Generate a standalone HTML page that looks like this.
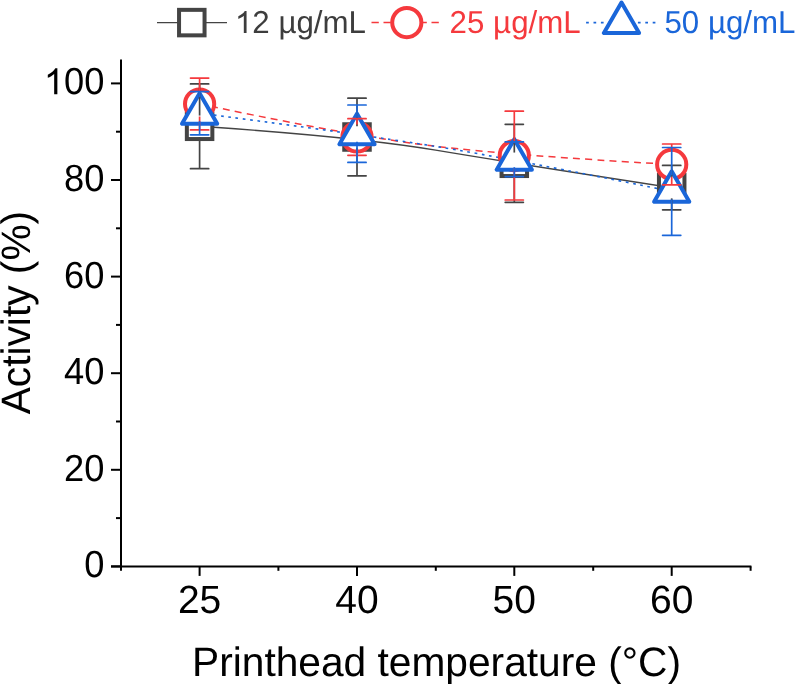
<!DOCTYPE html><html><head><meta charset="utf-8"><style>html,body{margin:0;padding:0;background:#fff;overflow:hidden;}svg{display:block;will-change:transform;}text{font-family:"Liberation Sans",sans-serif;text-rendering:geometricPrecision;}</style></head><body>
<svg width="795" height="684" viewBox="0 0 795 684">
<rect width="795" height="684" fill="#fff"/>
<g stroke="#000" stroke-width="2" fill="none" stroke-linecap="butt">
<line x1="121.0" y1="59.5" x2="121.0" y2="567.4"/>
<line x1="111.0" y1="566.4" x2="751.4" y2="566.4"/>
<line x1="111.0" y1="566.40" x2="121.0" y2="566.40"/>
<line x1="111.0" y1="469.80" x2="121.0" y2="469.80"/>
<line x1="111.0" y1="373.20" x2="121.0" y2="373.20"/>
<line x1="111.0" y1="276.60" x2="121.0" y2="276.60"/>
<line x1="111.0" y1="180.00" x2="121.0" y2="180.00"/>
<line x1="111.0" y1="83.40" x2="121.0" y2="83.40"/>
<line x1="116.0" y1="518.10" x2="121.0" y2="518.10"/>
<line x1="116.0" y1="421.50" x2="121.0" y2="421.50"/>
<line x1="116.0" y1="324.90" x2="121.0" y2="324.90"/>
<line x1="116.0" y1="228.30" x2="121.0" y2="228.30"/>
<line x1="116.0" y1="131.70" x2="121.0" y2="131.70"/>
<line x1="199.6" y1="566.4" x2="199.6" y2="575.9"/>
<line x1="357.0" y1="566.4" x2="357.0" y2="575.9"/>
<line x1="514.3" y1="566.4" x2="514.3" y2="575.9"/>
<line x1="671.7" y1="566.4" x2="671.7" y2="575.9"/>
<line x1="121.00" y1="566.4" x2="121.00" y2="570.8"/>
<line x1="278.40" y1="566.4" x2="278.40" y2="570.8"/>
<line x1="435.80" y1="566.4" x2="435.80" y2="570.8"/>
<line x1="593.20" y1="566.4" x2="593.20" y2="570.8"/>
<line x1="750.60" y1="566.4" x2="750.60" y2="570.8"/>
</g>
<text transform="translate(104.40,577.30) scale(1,1.04)" font-size="36.3" fill="#000" text-anchor="end">0</text>
<text transform="translate(104.40,480.70) scale(1,1.04)" font-size="36.3" fill="#000" text-anchor="end">20</text>
<text transform="translate(104.40,384.10) scale(1,1.04)" font-size="36.3" fill="#000" text-anchor="end">40</text>
<text transform="translate(104.40,287.50) scale(1,1.04)" font-size="36.3" fill="#000" text-anchor="end">60</text>
<text transform="translate(104.40,190.90) scale(1,1.04)" font-size="36.3" fill="#000" text-anchor="end">80</text>
<path transform="translate(43.84,94.30) scale(0.01772,-0.01772)" d="M763,0 L583,0 L583,1147 Q518,1085 415,1024.5 Q312,964 223,931 L223,1105 Q374,1176 484.5,1274 Q595,1372 647,1466 L763,1466 Z" fill="#000"/>
<text transform="translate(64.02,94.30) scale(1,1.04)" font-size="36.3" fill="#000" text-anchor="start">00</text>
<text transform="translate(199.60,613.40) scale(1,1.01)" font-size="39.0" fill="#000" text-anchor="middle">25</text>
<text transform="translate(357.00,613.40) scale(1,1.01)" font-size="39.0" fill="#000" text-anchor="middle">40</text>
<text transform="translate(514.30,613.40) scale(1,1.01)" font-size="39.0" fill="#000" text-anchor="middle">50</text>
<text transform="translate(671.70,613.40) scale(1,1.01)" font-size="39.0" fill="#000" text-anchor="middle">60</text>
<text transform="translate(436.50,675.90) scale(1,1.01)" font-size="40.7" fill="#000" text-anchor="middle">Printhead temperature (°C)</text>
<text transform="translate(30.3,312.6) rotate(-90) scale(1,1.01)" font-size="40.7" text-anchor="middle" fill="#000">Activity (%)</text>
<path d="M199.60,126.30 Q357.00,137.00 435.65,150.15 Q514.30,163.30 671.70,187.60" fill="none" stroke="#444444" stroke-width="1.4"/>
<path d="M199.60,104.00 Q357.00,137.00 435.65,146.30 Q514.30,155.60 671.70,164.40" fill="none" stroke="#f5393d" stroke-width="1.5" stroke-dasharray="7.0,5.2216" stroke-dashoffset="0.953"/>
<path d="M199.60,113.20 Q357.00,133.70 435.65,146.45 Q514.30,159.20 671.70,191.40" fill="none" stroke="#1a66d9" stroke-width="1.6" stroke-dasharray="2.7,4.634" stroke-dashoffset="0.632"/>
<rect x="186.85" y="113.55" width="25.5" height="25.5" fill="#fff" stroke="#444444" stroke-width="4"/>
<rect x="344.25" y="124.25" width="25.5" height="25.5" fill="#fff" stroke="#444444" stroke-width="4"/>
<rect x="501.55" y="150.55" width="25.5" height="25.5" fill="#fff" stroke="#444444" stroke-width="4"/>
<rect x="658.95" y="174.85" width="25.5" height="25.5" fill="#fff" stroke="#444444" stroke-width="4"/>
<circle cx="199.60" cy="104.00" r="14.6" fill="#fff" stroke="#f5393d" stroke-width="4"/>
<circle cx="357.00" cy="137.00" r="14.6" fill="#fff" stroke="#f5393d" stroke-width="4"/>
<circle cx="514.30" cy="155.60" r="14.6" fill="#fff" stroke="#f5393d" stroke-width="4"/>
<circle cx="671.70" cy="164.40" r="14.6" fill="#fff" stroke="#f5393d" stroke-width="4"/>
<path d="M199.60,93.17 L181.99,123.67 L217.21,123.67 Z" fill="#fff" stroke="#1a66d9" stroke-width="4" stroke-linejoin="round"/>
<path d="M357.00,113.67 L339.39,144.17 L374.61,144.17 Z" fill="#fff" stroke="#1a66d9" stroke-width="4" stroke-linejoin="round"/>
<path d="M514.30,139.17 L496.69,169.67 L531.91,169.67 Z" fill="#fff" stroke="#1a66d9" stroke-width="4" stroke-linejoin="round"/>
<path d="M671.70,171.37 L654.09,201.87 L689.31,201.87 Z" fill="#fff" stroke="#1a66d9" stroke-width="4" stroke-linejoin="round"/>
<g stroke="#444444" stroke-width="1.7" stroke-linecap="round"><line x1="199.6" y1="83.90" x2="199.6" y2="115.55" stroke-linecap="butt"/><line x1="199.6" y1="137.05" x2="199.6" y2="168.70" stroke-linecap="butt"/><line x1="190.5" y1="83.90" x2="208.7" y2="83.90"/><line x1="190.5" y1="168.70" x2="208.7" y2="168.70"/></g>
<g stroke="#444444" stroke-width="1.7" stroke-linecap="round"><line x1="357.0" y1="98.20" x2="357.0" y2="126.25" stroke-linecap="butt"/><line x1="357.0" y1="147.75" x2="357.0" y2="175.80" stroke-linecap="butt"/><line x1="347.9" y1="98.20" x2="366.1" y2="98.20"/><line x1="347.9" y1="175.80" x2="366.1" y2="175.80"/></g>
<g stroke="#444444" stroke-width="1.7" stroke-linecap="round"><line x1="514.3" y1="124.30" x2="514.3" y2="152.55" stroke-linecap="butt"/><line x1="514.3" y1="174.05" x2="514.3" y2="202.30" stroke-linecap="butt"/><line x1="505.19999999999993" y1="124.30" x2="523.4" y2="124.30"/><line x1="505.19999999999993" y1="202.30" x2="523.4" y2="202.30"/></g>
<g stroke="#444444" stroke-width="1.7" stroke-linecap="round"><line x1="671.7" y1="165.40" x2="671.7" y2="176.85" stroke-linecap="butt"/><line x1="671.7" y1="198.35" x2="671.7" y2="209.80" stroke-linecap="butt"/><line x1="662.6" y1="165.40" x2="680.8000000000001" y2="165.40"/><line x1="662.6" y1="209.80" x2="680.8000000000001" y2="209.80"/></g>
<g stroke="#f5393d" stroke-width="1.7" stroke-linecap="round"><line x1="199.6" y1="78.10" x2="199.6" y2="91.50" stroke-linecap="butt"/><line x1="199.6" y1="116.50" x2="199.6" y2="129.90" stroke-linecap="butt"/><line x1="190.5" y1="78.10" x2="208.7" y2="78.10"/><line x1="190.5" y1="129.90" x2="208.7" y2="129.90"/></g>
<g stroke="#f5393d" stroke-width="1.7" stroke-linecap="round"><line x1="357.0" y1="118.70" x2="357.0" y2="124.50" stroke-linecap="butt"/><line x1="357.0" y1="149.50" x2="357.0" y2="155.30" stroke-linecap="butt"/><line x1="347.9" y1="118.70" x2="366.1" y2="118.70"/><line x1="347.9" y1="155.30" x2="366.1" y2="155.30"/></g>
<g stroke="#f5393d" stroke-width="1.7" stroke-linecap="round"><line x1="514.3" y1="111.20" x2="514.3" y2="143.10" stroke-linecap="butt"/><line x1="514.3" y1="168.10" x2="514.3" y2="200.00" stroke-linecap="butt"/><line x1="505.19999999999993" y1="111.20" x2="523.4" y2="111.20"/><line x1="505.19999999999993" y1="200.00" x2="523.4" y2="200.00"/></g>
<g stroke="#f5393d" stroke-width="1.7" stroke-linecap="round"><line x1="671.7" y1="144.00" x2="671.7" y2="151.90" stroke-linecap="butt"/><line x1="671.7" y1="176.90" x2="671.7" y2="184.80" stroke-linecap="butt"/><line x1="662.6" y1="144.00" x2="680.8000000000001" y2="144.00"/><line x1="662.6" y1="184.80" x2="680.8000000000001" y2="184.80"/></g>
<g stroke="#1a66d9" stroke-width="1.7" stroke-linecap="round"><line x1="199.6" y1="91.60" x2="199.6" y2="97.20" stroke-linecap="butt"/><line x1="199.6" y1="121.20" x2="199.6" y2="134.80" stroke-linecap="butt"/><line x1="190.5" y1="91.60" x2="208.7" y2="91.60"/><line x1="190.5" y1="134.80" x2="208.7" y2="134.80"/></g>
<g stroke="#1a66d9" stroke-width="1.7" stroke-linecap="round"><line x1="357.0" y1="105.00" x2="357.0" y2="117.70" stroke-linecap="butt"/><line x1="357.0" y1="141.70" x2="357.0" y2="162.40" stroke-linecap="butt"/><line x1="347.9" y1="105.00" x2="366.1" y2="105.00"/><line x1="347.9" y1="162.40" x2="366.1" y2="162.40"/></g>
<g stroke="#1a66d9" stroke-width="1.7" stroke-linecap="round"><line x1="514.3" y1="141.80" x2="514.3" y2="143.20" stroke-linecap="butt"/><line x1="514.3" y1="167.20" x2="514.3" y2="176.60" stroke-linecap="butt"/><line x1="505.19999999999993" y1="141.80" x2="523.4" y2="141.80"/><line x1="505.19999999999993" y1="176.60" x2="523.4" y2="176.60"/></g>
<g stroke="#1a66d9" stroke-width="1.7" stroke-linecap="round"><line x1="671.7" y1="147.50" x2="671.7" y2="175.40" stroke-linecap="butt"/><line x1="671.7" y1="199.40" x2="671.7" y2="235.30" stroke-linecap="butt"/><line x1="662.6" y1="147.50" x2="680.8000000000001" y2="147.50"/><line x1="662.6" y1="235.30" x2="680.8000000000001" y2="235.30"/></g>
<line x1="157" y1="22.6" x2="227" y2="22.6" stroke="#444444" stroke-width="1.4"/>
<rect x="179.05" y="9.85" width="25.5" height="25.5" fill="#fff" stroke="#444444" stroke-width="4"/>
<path transform="translate(234.90,32.90) scale(0.01528,-0.01498)" d="M763,0 L583,0 L583,1147 Q518,1085 415,1024.5 Q312,964 223,931 L223,1105 Q374,1176 484.5,1274 Q595,1372 647,1466 L763,1466 Z" fill="#3d3d3d"/>
<text transform="translate(252.31,32.90) scale(1,1.015)" font-size="31.3" fill="#3d3d3d" text-anchor="start">2 µg/mL</text>
<line x1="371.5" y1="22.6" x2="439.5" y2="22.6" stroke="#f5393d" stroke-width="1.5" stroke-dasharray="7.3,4.7"/>
<circle cx="406.80" cy="22.60" r="14.6" fill="#fff" stroke="#f5393d" stroke-width="4"/>
<text transform="translate(449.60,32.90) scale(1,1.015)" font-size="31.3" fill="#f5393d" text-anchor="start">25 µg/mL</text>
<line x1="586.1" y1="22.6" x2="656" y2="22.6" stroke="#1a66d9" stroke-width="1.6" stroke-dasharray="2.7,4.7"/>
<path d="M621.50,2.57 L603.89,33.07 L639.11,33.07 Z" fill="#fff" stroke="#1a66d9" stroke-width="4" stroke-linejoin="round"/>
<text transform="translate(664.40,32.90) scale(1,1.015)" font-size="31.3" fill="#1a66d9" text-anchor="start">50 µg/mL</text>
</svg></body></html>
